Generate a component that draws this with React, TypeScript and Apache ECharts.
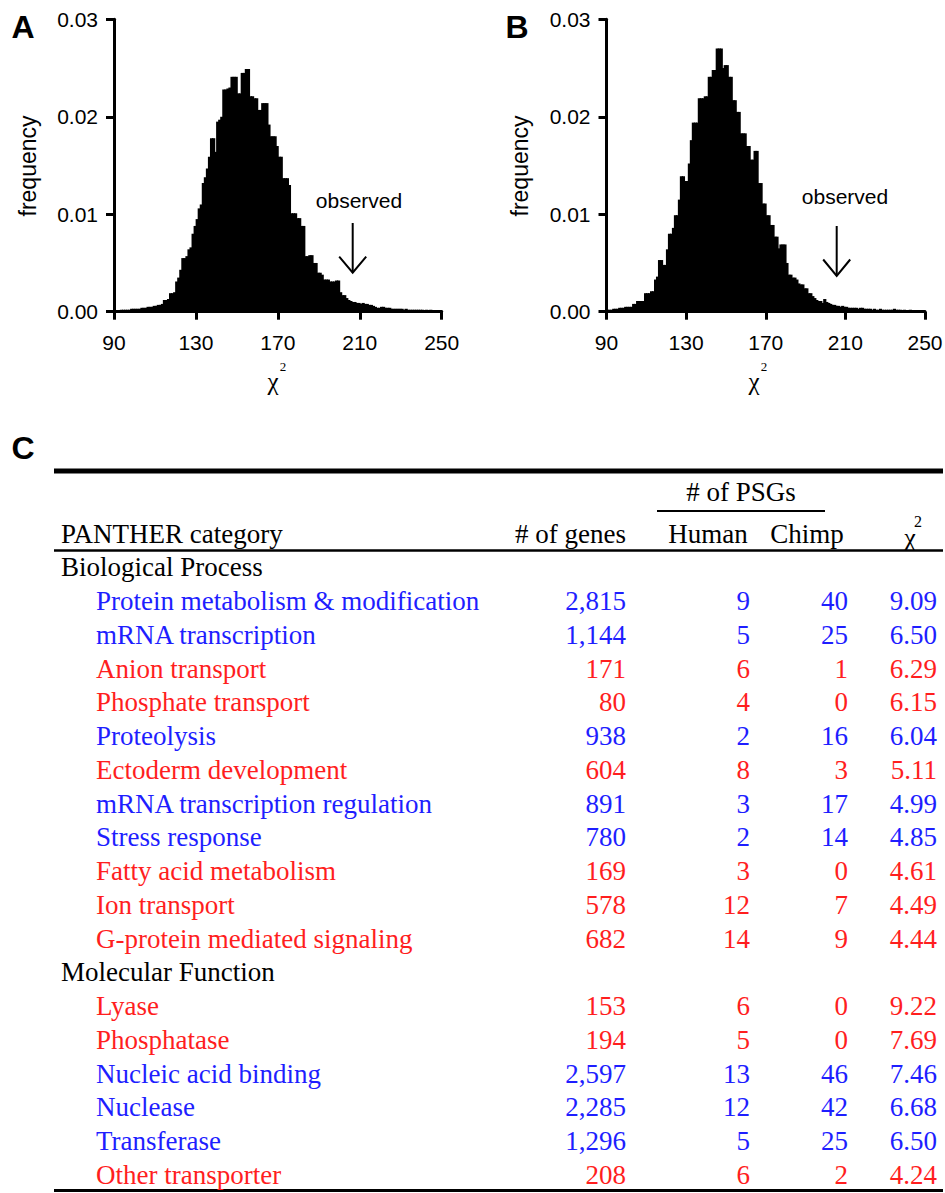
import React, { useEffect, useRef } from "react";
import * as echarts from "echarts";

// ---------- Histogram data (bins of width 1, starting at 90) ----------
const binStart = 90;
const xTicks = [90, 130, 170, 210, 250];
const freqA = [
  0.0001, 0.0001, 0.0001, 0.0002, 0.0002, 0.0002, 0.0002, 0.0002, 0.0003, 0.0003,
  0.0003, 0.0003, 0.0003, 0.0004, 0.0004, 0.0004, 0.0005, 0.0005, 0.0005, 0.0006,
  0.0006, 0.0007, 0.0007, 0.0008, 0.0012, 0.0012, 0.0013, 0.0019, 0.0019, 0.0020,
  0.0031, 0.0035, 0.0043, 0.0055, 0.0055, 0.0057, 0.0064, 0.0066, 0.0080, 0.0088,
  0.0095, 0.0106, 0.0110, 0.0132, 0.0138, 0.0147, 0.0159, 0.0178, 0.0178, 0.0164,
  0.0195, 0.0197, 0.0200, 0.0228, 0.0228, 0.0229, 0.0230, 0.0241, 0.0241, 0.0241,
  0.0224, 0.0224, 0.0245, 0.0245, 0.0249, 0.0249, 0.0221, 0.0221, 0.0219, 0.0219,
  0.0207, 0.0207, 0.0214, 0.0214, 0.0214, 0.0192, 0.0180, 0.0180, 0.0180, 0.0170,
  0.0159, 0.0159, 0.0137, 0.0137, 0.0137, 0.0130, 0.0101, 0.0101, 0.0101, 0.0096,
  0.0096, 0.0088, 0.0088, 0.0057, 0.0057, 0.0058, 0.0058, 0.0050, 0.0050, 0.0040,
  0.0040, 0.0038, 0.0033, 0.0033, 0.0033, 0.0031, 0.0031, 0.0031, 0.0032, 0.0032,
  0.0020, 0.0017, 0.0017, 0.0014, 0.0012, 0.0011, 0.0010, 0.0010, 0.0009, 0.0009,
  0.0008, 0.0009, 0.0008, 0.0008, 0.0007, 0.0007, 0.0006, 0.0005, 0.0004, 0.0004,
  0.0005, 0.0005, 0.0004, 0.0004, 0.0004, 0.0003, 0.0003, 0.0003, 0.0003, 0.0003,
  0.0003, 0.0002, 0.0003, 0.0002, 0.0002, 0.0002, 0.0002, 0.0002, 0.0002, 0.0002,
  0.0002, 0.0001, 0.0002, 0.0001, 0.0002, 0.0001, 0.0001, 0.0001, 0.0001, 0.0001,
];
const freqB = [
  0.0002, 0.0002, 0.0002, 0.0003, 0.0003, 0.0003, 0.0004, 0.0004, 0.0004, 0.0005,
  0.0005, 0.0005, 0.0005, 0.0008, 0.0008, 0.0011, 0.0011, 0.0011, 0.0011, 0.0019,
  0.0019, 0.0019, 0.0021, 0.0021, 0.0033, 0.0036, 0.0053, 0.0053, 0.0048, 0.0048,
  0.0064, 0.0080, 0.0080, 0.0086, 0.0099, 0.0099, 0.0115, 0.0139, 0.0139, 0.0134,
  0.0134, 0.0152, 0.0176, 0.0194, 0.0194, 0.0194, 0.0219, 0.0219, 0.0219, 0.0221,
  0.0221, 0.0241, 0.0241, 0.0248, 0.0248, 0.0270, 0.0270, 0.0270, 0.0250, 0.0253,
  0.0253, 0.0241, 0.0241, 0.0217, 0.0217, 0.0205, 0.0205, 0.0183, 0.0183, 0.0183,
  0.0170, 0.0170, 0.0156, 0.0156, 0.0165, 0.0165, 0.0132, 0.0132, 0.0111, 0.0111,
  0.0099, 0.0099, 0.0089, 0.0089, 0.0077, 0.0077, 0.0065, 0.0069, 0.0069, 0.0069,
  0.0050, 0.0038, 0.0038, 0.0035, 0.0035, 0.0033, 0.0029, 0.0028, 0.0028, 0.0024,
  0.0024, 0.0019, 0.0019, 0.0016, 0.0014, 0.0012, 0.0011, 0.0011, 0.0009, 0.0013,
  0.0010, 0.0009, 0.0008, 0.0007, 0.0007, 0.0006, 0.0006, 0.0005, 0.0006, 0.0005,
  0.0005, 0.0004, 0.0004, 0.0004, 0.0004, 0.0004, 0.0003, 0.0004, 0.0004, 0.0003,
  0.0003, 0.0003, 0.0003, 0.0002, 0.0003, 0.0002, 0.0002, 0.0003, 0.0002, 0.0002,
  0.0002, 0.0002, 0.0002, 0.0002, 0.0003, 0.0002, 0.0002, 0.0002, 0.0001, 0.0002,
  0.0001, 0.0001, 0.0002, 0.0001, 0.0001, 0.0001, 0.0001, 0.0001, 0.0001, 0.0001,
];

// ---------- Table data ----------
const sectionTitles = ["Biological Process", "Molecular Function"];
const bpCategories = [
  "Protein metabolism & modification",
  "mRNA transcription",
  "Anion transport",
  "Phosphate transport",
  "Proteolysis",
  "Ectoderm development",
  "mRNA transcription regulation",
  "Stress response",
  "Fatty acid metabolism",
  "Ion transport",
  "G-protein mediated signaling",
];
const bpGenes = ["2,815", "1,144", "171", "80", "938", "604", "891", "780", "169", "578", "682"];
const bpHuman = [9, 5, 6, 4, 2, 8, 3, 2, 3, 12, 14];
const bpChimp = [40, 25, 1, 0, 16, 3, 17, 14, 0, 7, 9];
const bpChi2 = ["9.09", "6.50", "6.29", "6.15", "6.04", "5.11", "4.99", "4.85", "4.61", "4.49", "4.44"];
const bpLineage = ["c", "c", "h", "h", "c", "h", "c", "c", "h", "h", "h"];

const mfCategories = ["Lyase", "Phosphatase", "Nucleic acid binding", "Nuclease", "Transferase", "Other transporter"];
const mfGenes = ["153", "194", "2,597", "2,285", "1,296", "208"];
const mfHuman = [6, 5, 13, 12, 5, 6];
const mfChimp = [0, 0, 46, 42, 25, 2];
const mfChi2 = ["9.22", "7.69", "7.46", "6.68", "6.50", "4.24"];
const mfLineage = ["h", "h", "c", "c", "c", "h"];

const SANS = "'Liberation Sans', Arial, Helvetica, sans-serif";
const SERIF = "'Liberation Serif', 'Times New Roman', Times, serif";
const BLUE = "#1e1eff";
const RED = "#ff1e1e";

function histSeries(values: number[], idx: number) {
  return {
    type: "custom",
    xAxisIndex: idx,
    yAxisIndex: idx,
    silent: true,
    encode: { x: 0, y: 1 },
    data: values.map((v, i) => [binStart + i, v]),
    renderItem: (_params: any, api: any) => {
      const x = api.value(0);
      const v = api.value(1);
      const tl = api.coord([x, v]);
      const br = api.coord([x + 1, 0]);
      return {
        type: "rect",
        shape: { x: tl[0] - 0.3, y: tl[1], width: br[0] - tl[0] + 1.2, height: br[1] - tl[1] },
        style: { fill: "#000", stroke: null },
      };
    },
  };
}

function xAxisOpt(idx: number) {
  return {
    type: "value",
    gridIndex: idx,
    min: 90,
    max: 250,
    interval: 40,
    axisLine: { show: true, onZero: false, lineStyle: { color: "#000", width: 3 } },
    axisTick: { show: true, length: 8, inside: false, lineStyle: { color: "#000", width: 3 } },
    splitLine: { show: false },
    axisLabel: {
      color: "#000",
      fontSize: 21,
      fontFamily: SANS,
      margin: 20,
      customValues: xTicks,
    },
  };
}

function yAxisOpt(idx: number) {
  return {
    type: "value",
    gridIndex: idx,
    min: 0,
    max: 0.03,
    interval: 0.01,
    axisLine: { show: true, onZero: false, lineStyle: { color: "#000", width: 3 } },
    axisTick: { show: true, length: 8, lineStyle: { color: "#000", width: 3 } },
    splitLine: { show: false },
    axisLabel: {
      color: "#000",
      fontSize: 21,
      fontFamily: SANS,
      margin: 16,
      formatter: (v: number) => v.toFixed(2),
    },
  };
}

function text(t: string, x: number, y: number, o: any = {}) {
  return {
    type: "text",
    x,
    y,
    silent: true,
    rotation: o.rotation || 0,
    style: {
      text: t,
      fontSize: o.fontSize || 27,
      fontFamily: o.fontFamily || SERIF,
      fontWeight: o.fontWeight || "normal",
      fill: o.fill || "#000",
      align: o.align || "left",
      verticalAlign: "middle",
    },
  };
}

function line(x1: number, y1: number, x2: number, y2: number, w: number) {
  return {
    type: "line",
    silent: true,
    shape: { x1, y1, x2, y2 },
    style: { stroke: "#000", lineWidth: w },
  };
}

function arrow(x: number, yTop: number, yTip: number, half: number, headH: number) {
  return [
    line(x, yTop, x, yTip, 2),
    {
      type: "polyline",
      silent: true,
      shape: { points: [[x - half, yTip - headH], [x, yTip], [x + half, yTip - headH]] },
      style: { stroke: "#000", lineWidth: 2, fill: null },
    },
  ];
}

function buildTable() {
  const els: any[] = [];
  const rowMid = (r: number) => 576.5 + 33.75 * r - 9.1;
  // rules
  els.push(line(54, 471, 943, 471, 5));
  els.push(line(657, 511, 825, 511, 2));
  els.push(line(54, 550.5, 943, 550.5, 2.5));
  els.push(line(54, 1190.5, 943, 1190.5, 3));
  // headers
  els.push(text("# of PSGs", 741, 492, { align: "center" }));
  els.push(text("PANTHER category", 61, 534.2));
  els.push(text("# of genes", 626, 534.2, { align: "right" }));
  els.push(text("Human", 708, 534.2, { align: "center" }));
  els.push(text("Chimp", 807, 534.2, { align: "center" }));
  els.push(text("χ", 910, 537, { align: "center", fontSize: 26 }));
  els.push(text("2", 918, 521, { align: "center", fontSize: 16 }));

  const sections = [
    { title: sectionTitles[0], cats: bpCategories, genes: bpGenes, h: bpHuman, c: bpChimp, x2: bpChi2, lin: bpLineage },
    { title: sectionTitles[1], cats: mfCategories, genes: mfGenes, h: mfHuman, c: mfChimp, x2: mfChi2, lin: mfLineage },
  ];
  let r = 0;
  sections.forEach((s) => {
    els.push(text(s.title, 61, rowMid(r)));
    r++;
    s.cats.forEach((cat, i) => {
      const fill = s.lin[i] === "h" ? RED : BLUE;
      const y = rowMid(r);
      els.push(text(cat, 96, y, { fill }));
      els.push(text(s.genes[i], 626, y, { fill, align: "right" }));
      els.push(text(String(s.h[i]), 750, y, { fill, align: "right" }));
      els.push(text(String(s.c[i]), 848, y, { fill, align: "right" }));
      els.push(text(s.x2[i], 937, y, { fill, align: "right" }));
      r++;
    });
  });
  return els;
}

export default function App() {
  const ref = useRef<HTMLDivElement>(null);
  useEffect(() => {
    if (!ref.current) return;
    const chart = echarts.init(ref.current, null, { renderer: "svg" });
    const graphic: any[] = [
      // panel letters
      text("A", 23, 27, { fontFamily: SANS, fontWeight: "bold", fontSize: 32, align: "center" }),
      text("B", 517, 27, { fontFamily: SANS, fontWeight: "bold", fontSize: 32, align: "center" }),
      text("C", 23, 448, { fontFamily: SANS, fontWeight: "bold", fontSize: 32, align: "center" }),
      // y-axis titles
      text("frequency", 28, 166, { fontFamily: SANS, fontSize: 23, align: "center", rotation: Math.PI / 2 }),
      text("frequency", 520, 166, { fontFamily: SANS, fontSize: 23, align: "center", rotation: Math.PI / 2 }),
      // x-axis titles
      text("χ", 273, 381, { align: "center", fontSize: 25 }),
      text("2", 283, 366, { align: "center", fontSize: 13 }),
      text("χ", 754, 381, { align: "center", fontSize: 25 }),
      text("2", 764, 366, { align: "center", fontSize: 13 }),
      // observed annotations
      text("observed", 359, 200, { fontFamily: SANS, fontSize: 21, align: "center" }),
      ...arrow(352.7, 223, 272.7, 13.5, 16),
      text("observed", 845, 196, { fontFamily: SANS, fontSize: 21, align: "center" }),
      ...arrow(836.7, 226, 276, 13.5, 16.5),
      ...buildTable(),
    ];
    chart.setOption({
      animation: false,
      backgroundColor: "#fff",
      grid: [
        { left: 114, top: 19.3, width: 327.7, height: 292.4, containLabel: false, outerBoundsMode: "none" },
        { left: 606.5, top: 19.3, width: 318.5, height: 292.4, containLabel: false, outerBoundsMode: "none" },
      ],
      xAxis: [xAxisOpt(0), xAxisOpt(1)],
      yAxis: [yAxisOpt(0), yAxisOpt(1)],
      series: [histSeries(freqA, 0), histSeries(freqB, 1)],
      graphic,
    });
    return () => chart.dispose();
  }, []);
  return (
    <div
      ref={ref}
      style={{ position: "absolute", left: 0, top: 0, width: 945, height: 1193, background: "#fff" }}
    />
  );
}
